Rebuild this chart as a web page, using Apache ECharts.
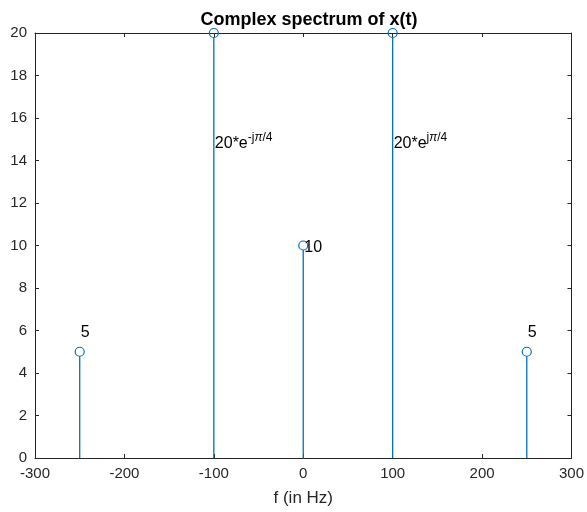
<!DOCTYPE html>
<html>
<head>
<meta charset="utf-8">
<script src="https://cdn.jsdelivr.net/npm/echarts@6/dist/echarts.min.js"></script>
<style>html,body{margin:0;padding:0;background:#fff;overflow:hidden}#c{width:587px;height:512px}</style>
</head>
<body>
<div id="c"></div>
<script>
// Stem data
const freqs = [-250, -100, 0, 100, 250];
const mags = [5, 20, 10, 20, 5];
// Annotation positions (data coords) and texts
const labelX = [-250, -100, 0, 100, 250];
const labelY = [6, 15, 10, 15, 6];
const labelText = ['5', '{b|20*e}{s|-j}{si|π}{s|/4}', '10', '{b|20*e}{s|j}{si|π}{s|/4}', '5'];
// Axis ticks
const xMin = -300, xMax = 300, xStep = 100;
const yMin = 0, yMax = 20, yStep = 2;

const stemColor = '#0072BD';
const axisColor = '#262626';
const FONT = 'Liberation Sans, Arial, sans-serif';

const chart = echarts.init(document.getElementById('c'), null, {renderer: 'canvas'});
const axCommon = {
  type: 'value',
  axisLine: {show: true, onZero: false, lineStyle: {color: axisColor, width: 1}},
  axisTick: {show: true, inside: true, length: 4, lineStyle: {color: axisColor}},
  splitLine: {show: false}
};
const option = {
  animation: false,
  backgroundColor: '#fff',
  title: {
    text: 'Complex spectrum of x(t)', left: 304, top: 6, textAlign: 'center',
    textStyle: {fontFamily: FONT, fontSize: 18, fontWeight: 'bold', color: '#000'}
  },
  grid: {left: 35, right: 14, top: 33, bottom: 54, containLabel: false},
  xAxis: [
    Object.assign({}, axCommon, {
      position: 'bottom', min: xMin, max: xMax, interval: xStep,
      name: 'f (in Hz)', nameLocation: 'middle', nameGap: 32,
      nameTextStyle: {fontFamily: FONT, fontSize: 17, color: axisColor},
      axisLabel: {fontFamily: FONT, fontSize: 15, color: axisColor, margin: 8}
    }),
    Object.assign({}, axCommon, {
      position: 'top', min: xMin, max: xMax, interval: xStep, axisLabel: {show: false}
    })
  ],
  yAxis: [
    Object.assign({}, axCommon, {
      position: 'left', min: yMin, max: yMax, interval: yStep,
      axisLabel: {fontFamily: FONT, fontSize: 15, color: axisColor, margin: 8}
    }),
    Object.assign({}, axCommon, {
      position: 'right', min: yMin, max: yMax, interval: yStep, axisLabel: {show: false}
    })
  ],
  series: [
    {
      type: 'custom',
      xAxisIndex: 0, yAxisIndex: 0,
      clip: false,
      data: freqs.map((f, i) => [f, mags[i]]),
      renderItem: function (params, api) {
        const x = api.value(0), y = api.value(1);
        const p0 = api.coord([x, 0]);
        const p1 = api.coord([x, y]);
        return {
          type: 'group',
          children: [
            {type: 'line', shape: {x1: p0[0], y1: p0[1], x2: p1[0], y2: p1[1] + 4.5},
             style: {stroke: stemColor, lineWidth: 1.3}},
            {type: 'circle', shape: {cx: p1[0], cy: p1[1], r: 4.5},
             style: {fill: 'none', stroke: stemColor, lineWidth: 1.2}}
          ]
        };
      }
    },
    {
      type: 'custom',
      xAxisIndex: 0, yAxisIndex: 0,
      clip: false,
      data: labelX.map((x, i) => [x, labelY[i], i]),
      renderItem: function (params, api) {
        const i = api.value(2);
        const p = api.coord([api.value(0), api.value(1)]);
        return {
          type: 'text',
          style: {
            text: labelText[i], x: p[0] + 1, y: p[1] + 2.5,
            align: 'left', verticalAlign: 'middle',
            fill: '#000', font: '16px ' + FONT,
            rich: {
              b: {fontFamily: FONT, fontSize: 16, color: '#000', lineHeight: 20, verticalAlign: 'bottom'},
              s: {fontFamily: FONT, fontSize: 12, color: '#000', lineHeight: 20, verticalAlign: 'top'},
              si: {fontFamily: FONT, fontSize: 12, fontStyle: 'italic', color: '#000', lineHeight: 20, verticalAlign: 'top'}
            }
          }
        };
      }
    }
  ]
};
chart.setOption(option);
</script>
</body>
</html>
